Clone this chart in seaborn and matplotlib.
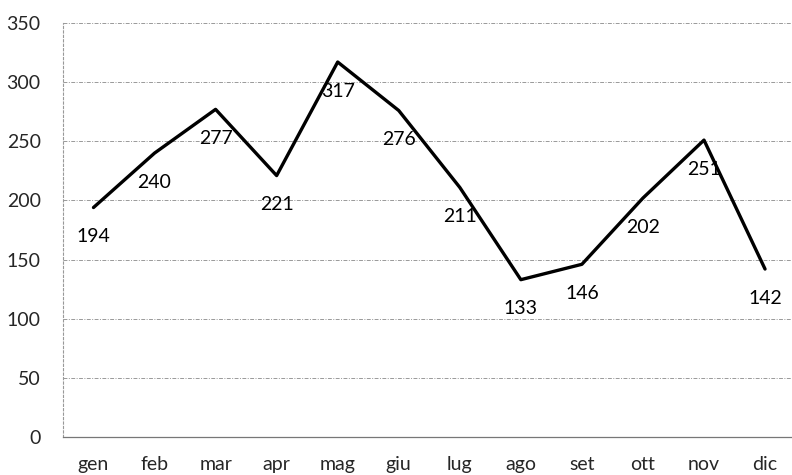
import matplotlib
matplotlib.use("Agg")
import matplotlib.pyplot as plt
import seaborn as sns
import pandas as pd
import numpy as np

# =============================
# DATA
# =============================
mesi = ["gen", "feb", "mar", "apr", "mag", "giu",
        "lug", "ago", "set", "ott", "nov", "dic"]
valori = [194, 240, 277, 221, 317, 276, 211, 133, 146, 202, 251, 142]
y_ticks = [0, 50, 100, 150, 200, 250, 300, 350]

df = pd.DataFrame({"mese": mesi, "valore": valori})

# =============================
# STYLE
# =============================
sns.set_style("white")
plt.rcParams["font.family"] = ["Lato", "DejaVu Sans"]

fig = plt.figure(figsize=(7.92, 4.75), dpi=100)
ax = fig.add_axes([0.0795, 0.08, 0.925, 0.8716])

x = np.arange(len(mesi))
sns.lineplot(x=x, y=df["valore"], ax=ax, color="black", linewidth=2.4, sort=False)

# data labels below each point
for xi, v in zip(x, valori):
    ax.annotate(str(v), (xi, v), xytext=(0, -29), textcoords="offset pixels",
                ha="center", va="center", fontsize=14, color="black")

ax.set_xlim(-0.5, len(mesi) - 0.5)
ax.set_ylim(0, 350)
ax.set_yticks(y_ticks)
ax.set_xticks(x)
ax.set_xticklabels(mesi)
ax.set_xticks(np.arange(-0.5, len(mesi), 1), minor=True)
ax.tick_params(axis="x", which="major", length=0, pad=14, labelsize=14)
ax.tick_params(axis="x", which="minor", length=4, color="#999999", width=0.8)
ax.tick_params(axis="y", length=0, pad=16, labelsize=14)

ax.grid(axis="y", color="#999999", linestyle=(0, (4, 1.5, 1, 1.5)), linewidth=0.7)
ax.set_axisbelow(True)

for side in ["top", "right"]:
    ax.spines[side].set_visible(False)
ax.spines["left"].set_color("#999999")
ax.spines["left"].set_linestyle((0, (2, 2)))
ax.spines["left"].set_linewidth(0.8)
ax.spines["bottom"].set_color("#777777")
ax.spines["bottom"].set_linewidth(0.9)

ax.set_xlabel("")
ax.set_ylabel("")

fig.savefig("out.png", dpi=100)
